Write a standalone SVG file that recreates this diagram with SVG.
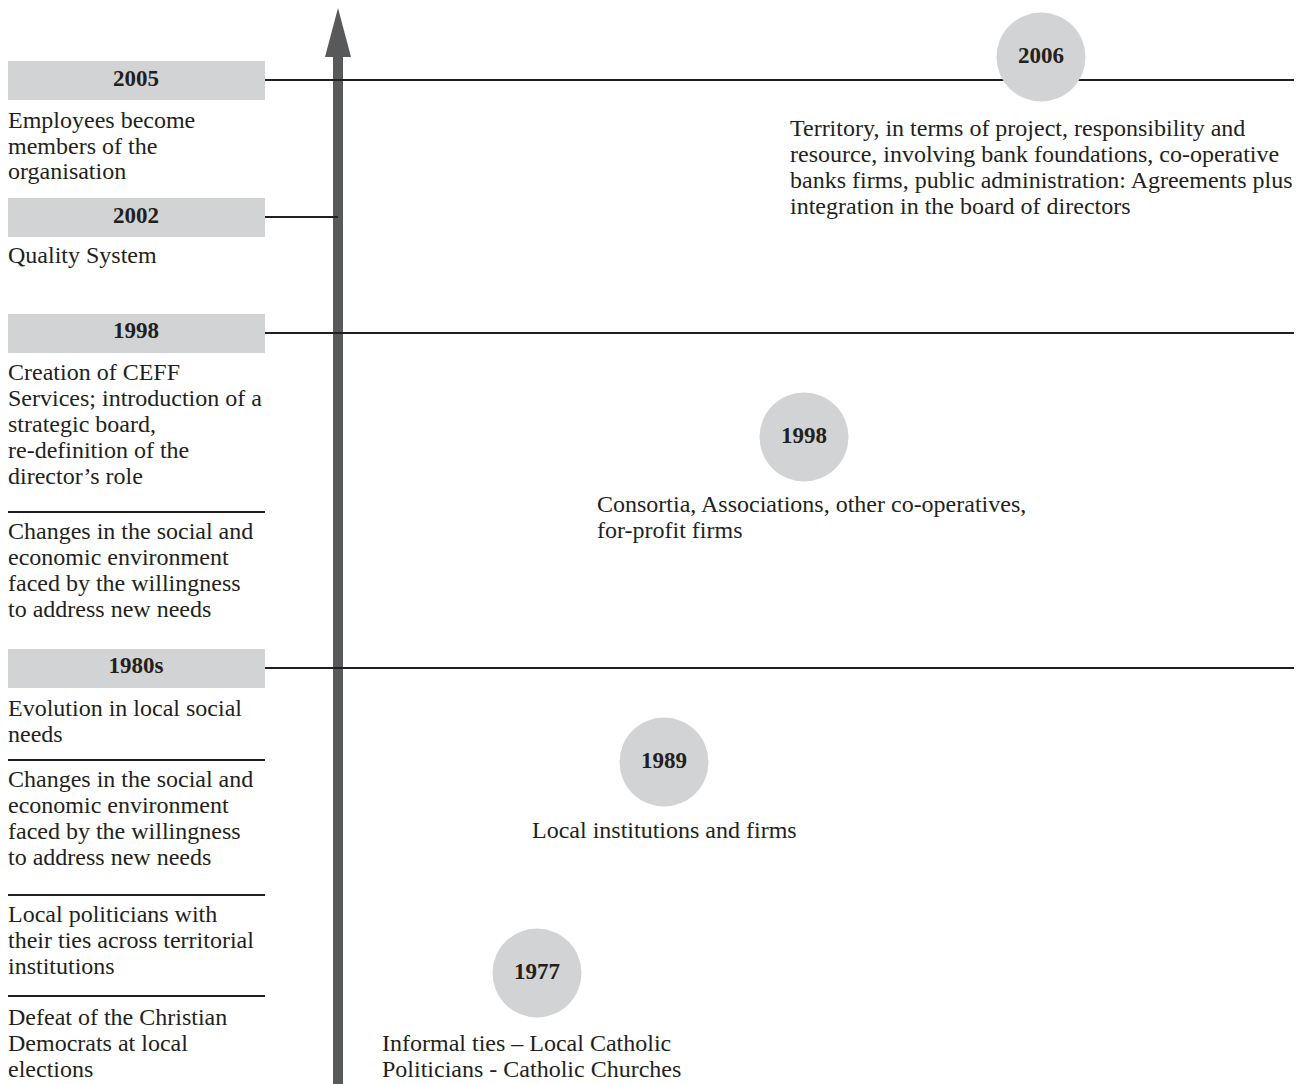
<svg xmlns="http://www.w3.org/2000/svg" width="1306" height="1084" viewBox="0 0 1306 1084">
<style>
.t{font-family:"Liberation Serif","Times New Roman",serif;font-size:24px;fill:#231f20}
.y{font-family:"Liberation Serif","Times New Roman",serif;font-size:23px;font-weight:bold;fill:#231f20;text-anchor:middle}
.box{fill:#d1d3d4}
.circ{fill:#d1d3d4}
.ln{stroke:#231f20;stroke-width:2;fill:none}
</style>
<rect width="1306" height="1084" fill="#ffffff"/>
<g id="axis">
<rect x="333" y="56" width="10" height="1028" fill="#58595b"/>
<polygon points="338,8 351,57 325,57" fill="#58595b"/>
</g>
<g id="connectors">
<line class="ln" x1="265" y1="80" x2="1294" y2="80"/>
<line class="ln" x1="265" y1="217" x2="338" y2="217"/>
<line class="ln" x1="265" y1="333" x2="1294" y2="333"/>
<line class="ln" x1="265" y1="668" x2="1294" y2="668"/>
<line class="ln" x1="8" y1="512" x2="265" y2="512"/>
<line class="ln" x1="8" y1="760" x2="265" y2="760"/>
<line class="ln" x1="8" y1="895" x2="265" y2="895"/>
<line class="ln" x1="8" y1="996" x2="265" y2="996"/>
</g>
<g id="y2005">
<rect class="box" x="8" y="61" width="257" height="39"/>
<text class="y" x="136" y="86">2005</text>
<text class="t" x="8" y="128">Employees become</text>
<text class="t" x="8" y="154">members of the</text>
<text class="t" x="8" y="179">organisation</text>
</g>
<g id="y2002">
<rect class="box" x="8" y="198" width="257" height="39"/>
<text class="y" x="136" y="223">2002</text>
<text class="t" x="8" y="263">Quality System</text>
</g>
<g id="y1998">
<rect class="box" x="8" y="314" width="257" height="39"/>
<text class="y" x="136" y="338">1998</text>
<text class="t" x="8" y="380">Creation of CEFF</text>
<text class="t" x="8" y="406">Services; introduction of a</text>
<text class="t" x="8" y="432">strategic board,</text>
<text class="t" x="8" y="458">re-definition of the</text>
<text class="t" x="8" y="484">director’s role</text>
</g>
<g id="cause1998">
<text class="t" x="8" y="539">Changes in the social and</text>
<text class="t" x="8" y="565">economic environment</text>
<text class="t" x="8" y="591">faced by the willingness</text>
<text class="t" x="8" y="617">to address new needs</text>
</g>
<g id="y1980s">
<rect class="box" x="8" y="649" width="257" height="39"/>
<text class="y" x="136" y="673">1980s</text>
<text class="t" x="8" y="716">Evolution in local social</text>
<text class="t" x="8" y="742">needs</text>
</g>
<g id="cause1980s">
<text class="t" x="8" y="787">Changes in the social and</text>
<text class="t" x="8" y="813">economic environment</text>
<text class="t" x="8" y="839">faced by the willingness</text>
<text class="t" x="8" y="865">to address new needs</text>
</g>
<g id="politicians">
<text class="t" x="8" y="922">Local politicians with</text>
<text class="t" x="8" y="948">their ties across territorial</text>
<text class="t" x="8" y="974">institutions</text>
</g>
<g id="defeat">
<text class="t" x="8" y="1025">Defeat of the Christian</text>
<text class="t" x="8" y="1051">Democrats at local</text>
<text class="t" x="8" y="1077">elections</text>
</g>
<g id="c2006">
<circle class="circ" cx="1041" cy="57" r="44.5"/>
<text class="y" x="1041" y="63">2006</text>
<text class="t" x="790" y="136">Territory, in terms of project, responsibility and</text>
<text class="t" x="790" y="162">resource, involving bank foundations, co-operative</text>
<text class="t" x="790" y="188">banks firms, public administration: Agreements plus</text>
<text class="t" x="790" y="214">integration in the board of directors</text>
</g>
<g id="c1998">
<circle class="circ" cx="804" cy="437" r="44.5"/>
<text class="y" x="804" y="443">1998</text>
<text class="t" x="597" y="512">Consortia, Associations, other co-operatives,</text>
<text class="t" x="597" y="538">for-profit firms</text>
</g>
<g id="c1989">
<circle class="circ" cx="664" cy="762" r="44.5"/>
<text class="y" x="664" y="768">1989</text>
<text class="t" x="532" y="838">Local institutions and firms</text>
</g>
<g id="c1977">
<circle class="circ" cx="537" cy="973" r="44.5"/>
<text class="y" x="537" y="979">1977</text>
<text class="t" x="382" y="1051">Informal ties – Local Catholic</text>
<text class="t" x="382" y="1077">Politicians - Catholic Churches</text>
</g>
</svg>
